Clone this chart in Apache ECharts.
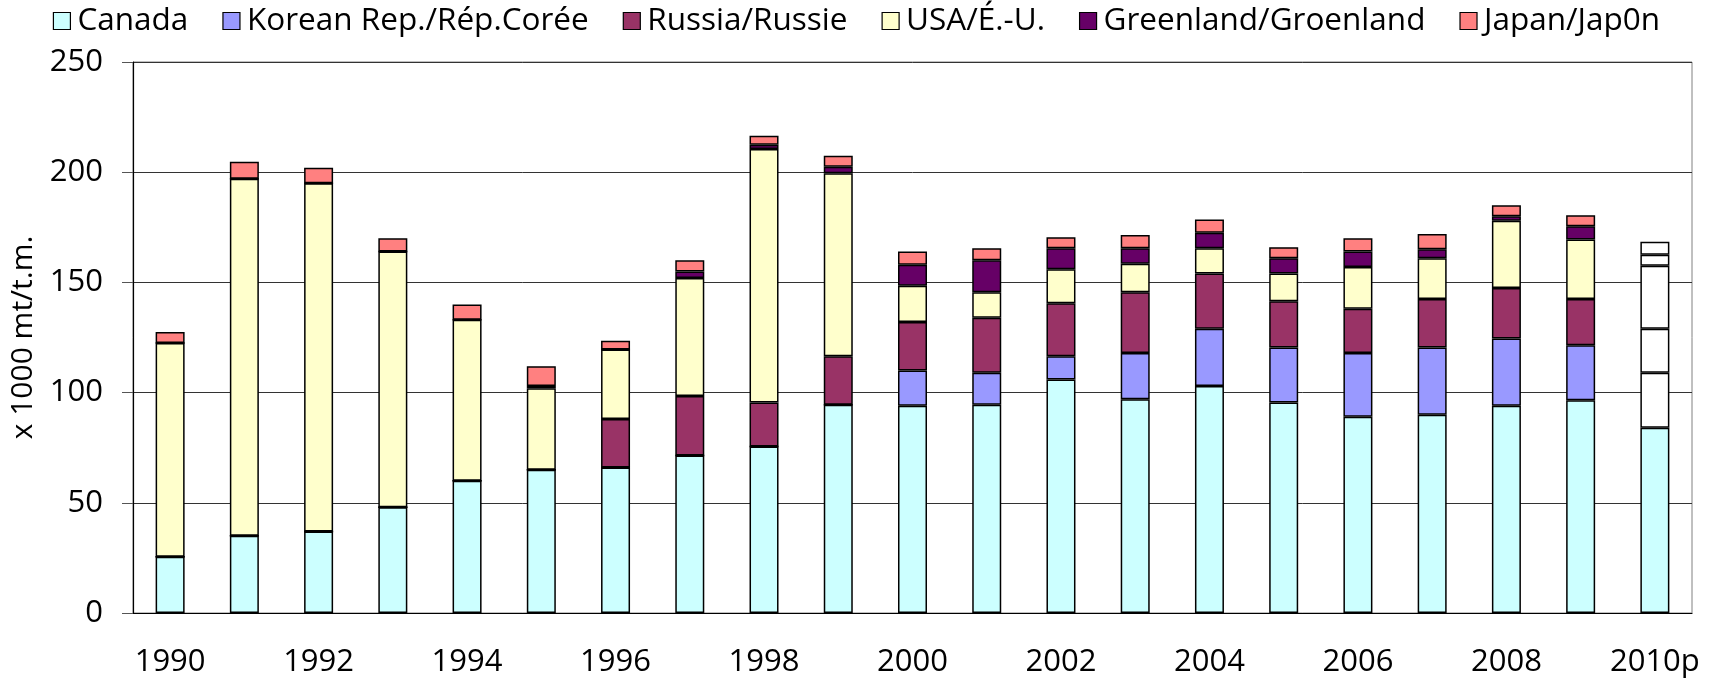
<!DOCTYPE html>
<html>
<head>
<meta charset="utf-8">
<script src="https://cdn.jsdelivr.net/npm/echarts@6/dist/echarts.min.js"></script>
<style>
  html, body { margin: 0; padding: 0; background: #fff; }
  #chart { width: 1713px; height: 683px; }
</style>
</head>
<body>
<div id="chart"></div>
<script>
// years, the last one is provisional (drawn white except Canada)
const years = ['1990', '1991', '1992', '1993', '1994', '1995', '1996', '1997', '1998', '1999',
  '2000', '2001', '2002', '2003', '2004', '2005', '2006', '2007', '2008', '2009', '2010p']

const canada    = [25.5, 35, 37, 48, 60, 65, 66, 71.5, 75.5, 94.5, 94, 94.5, 106, 97, 103, 95.5, 89, 90, 94, 96.5, 84]
const korea     = [0, 0, 0, 0, 0, 0, 0, 0, 0, 0, 16, 14.5, 10.5, 21, 26, 25, 29, 30.5, 30.5, 25, 25]
const russia    = [0, 0, 0, 0, 0, 0, 22, 27, 20, 22, 22, 25, 24, 27.5, 25, 21, 20, 22, 23, 21, 20]
const usa       = [97, 162, 158, 116, 73, 37, 31.5, 53.5, 115, 83, 16.5, 11.5, 15.5, 13, 11.5, 12.5, 19, 18.5, 30.5, 27, 28.5]
const greenland = [0, 0, 0, 0, 0, 1, 0, 3, 2, 3, 9.5, 14.5, 9.5, 7, 7, 7, 7, 4, 2, 6, 5]
const japan     = [5, 7.7, 7, 6, 7, 9, 4, 5, 4, 5, 6, 5.5, 5, 6, 6, 5, 6, 7, 5, 5, 6]

const font = '"Open Sans", "Noto Sans", sans-serif'

// one series of the stack; provisional year is white unless keepColor
const makeSeries = (name, values, color, keepColor) => ({
  name: name,
  type: 'bar',
  stack: 'total',
  barWidth: 29,
  itemStyle: { color: color, borderColor: '#000', borderWidth: 1.5 },
  data: values.map((v, i) => {
    if (years[i].endsWith('p') && !keepColor) {
      return { value: v, itemStyle: { color: '#fff' } }
    }
    return v
  })
})

const chart = echarts.init(document.getElementById('chart'))

chart.setOption({
  animation: false,
  textStyle: { fontFamily: font },
  legend: {
    top: 5,
    left: 'center',
    padding: 0,
    itemWidth: 17,
    itemHeight: 17,
    itemGap: 34,
    icon: 'rect',
    itemStyle: { borderColor: '#000', borderWidth: 1.2 },
    textStyle: { fontSize: 31.5, color: '#000', fontFamily: font, padding: [0, 0, 0, 2] }
  },
  grid: {
    left: 133,
    right: 21,
    top: 62,
    bottom: 70,
    show: true,
    borderColor: '#808080',
    borderWidth: 1
  },
  xAxis: {
    type: 'category',
    data: years,
    axisLine: { lineStyle: { color: '#000', width: 1.2 } },
    axisTick: { interval: 0, length: 10, lineStyle: { color: '#555' } },
    axisLabel: { interval: 1, margin: 34, fontSize: 31, color: '#000', fontFamily: font }
  },
  yAxis: {
    type: 'value',
    min: 0,
    max: 250,
    interval: 50,
    name: 'x 1000 mt/t.m.',
    nameLocation: 'middle',
    nameGap: 94,
    nameTextStyle: { fontSize: 30, color: '#000', fontFamily: font },
    axisLine: { show: true, lineStyle: { color: '#000', width: 1.2 } },
    axisTick: { show: true, length: 11, lineStyle: { color: '#555' } },
    axisLabel: { margin: 30, fontSize: 31, color: '#000', fontFamily: font },
    splitLine: { lineStyle: { color: '#333', width: 1 } }
  },
  series: [
    makeSeries('Canada', canada, '#CCFFFF', true),
    makeSeries('Korean Rep./Rép.Corée', korea, '#9999FF'),
    makeSeries('Russia/Russie', russia, '#993366'),
    makeSeries('USA/É.-U.', usa, '#FFFFCC'),
    makeSeries('Greenland/Groenland', greenland, '#660066'),
    makeSeries('Japan/Jap0n', japan, '#FF8080')
  ]
})
</script>
</body>
</html>
